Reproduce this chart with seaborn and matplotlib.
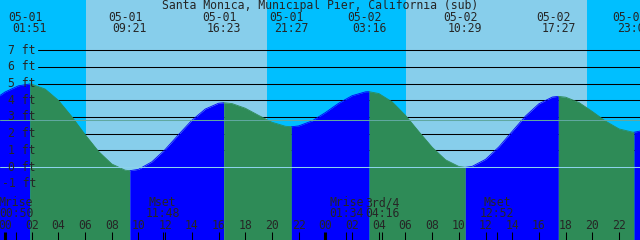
import numpy as np
import pandas as pd
import matplotlib
matplotlib.use("Agg")
import matplotlib.pyplot as plt
import seaborn as sns
from matplotlib.transforms import blended_transform_factory

# ---------------- data ----------------
title = "Santa Monica, Municipal Pier, California (sub)"

# tide height (ft) vs hours since 05-01 00:00
hours = [-1, 0, 1, 1.85, 2, 3, 4, 5, 6, 7, 8, 9, 9.35, 10, 11, 12, 13, 14, 15, 16,
         16.38, 17, 18, 19, 20, 21, 21.45, 22, 23, 24, 25, 26, 27, 27.27, 28, 29,
         30, 31, 32, 33, 34, 34.48, 35, 36, 37, 38, 39, 40, 41, 41.45, 42, 43, 44,
         45, 46, 47, 47.12, 48]
heights = [3.94, 4.49, 4.86, 4.97, 4.96, 4.67, 3.99, 3.02, 1.94, 0.94, 0.18, -0.19,
           -0.22, -0.14, 0.31, 1.05, 1.94, 2.80, 3.47, 3.82, 3.85, 3.80, 3.52, 3.09,
           2.68, 2.44, 2.41, 2.46, 2.76, 3.26, 3.82, 4.27, 4.50, 4.51, 4.40, 3.90,
           3.09, 2.12, 1.18, 0.43, 0.03, -0.02, 0.04, 0.46, 1.21, 2.14, 3.06, 3.79,
           4.19, 4.23, 4.18, 3.86, 3.32, 2.74, 2.28, 2.09, 2.08, 2.22]

# high / low tide events
tide_hours = [1.85, 9.35, 16.38, 21.45, 27.27, 34.48, 41.45, 47.12]
tide_dates = ["05-01", "05-01", "05-01", "05-01", "05-02", "05-02", "05-02", "05-02"]
tide_times = ["01:51", "09:21", "16:23", "21:27", "03:16", "10:29", "17:27", "23:07"]

# moon events
moon_hours = [0.833, 11.8, 25.567, 28.267, 36.867]
moon_names = ["Mrise", "Mset", "Mrise", "3rd/4", "Mset"]
moon_times = ["00:50", "11:48", "01:34", "04:16", "12:52"]

# sunrise / sunset (hours)
sunrise_hours = [6.07, 30.04]
sunset_hours = [19.6, 43.57]

ft_levels = [-1, 0, 1, 2, 3, 4, 5, 6, 7]
msl_ft = 2.8
hour_ticks = list(range(0, 49, 2))
hour_labels = [f"{h % 24:02d}" for h in hour_ticks]

# ---------------- style ----------------
W, H = 640, 240
NIGHT = "#00BFFF"
DAY = "#87CEEB"
RISE = "#0000FF"
FALL = "#2E8B57"
FS = 8.3

sns.set_style("white")
plt.rcParams["font.family"] = ["DejaVu Sans Mono", "DejaVu Sans"]

fig = plt.figure(figsize=(W / 100, H / 100), dpi=100)
ax = fig.add_axes([0, 0, 1, 1])
XMIN, XMAX = -0.3745, 47.566
YMIN, YMAX = -4.371, 10.0

# background: night / day
ax.axvspan(XMIN - 1, XMAX + 1, color=NIGHT, lw=0, zorder=0)
for r, s in zip(sunrise_hours, sunset_hours):
    ax.axvspan(r, s, color=DAY, lw=0, zorder=0)

# foot lines
for lvl in ft_levels:
    if lvl > 0:
        ax.axhline(lvl, xmin=38 / W, xmax=1, color="black", lw=0.75, zorder=1)

# tide fill: rising blue, falling green
t = np.array(hours, dtype=float)
h = np.array(heights, dtype=float)
rising = np.diff(h) > 0
rows = []
s = 0
seg = 0
for i in range(len(rising)):
    if i == len(rising) - 1 or rising[i + 1] != rising[i]:
        col = RISE if rising[i] else FALL
        ax.fill_between(t[s:i + 2], h[s:i + 2], YMIN - 5, color=col, lw=0,
                        zorder=2)
        for tt, hh in zip(t[s:i + 2], h[s:i + 2]):
            rows.append({"hour": tt, "ft": hh, "seg": seg,
                         "phase": "rise" if rising[i] else "fall"})
        seg += 1
        s = i + 1
df = pd.DataFrame(rows)
sns.lineplot(data=df, x="hour", y="ft", hue="phase", units="seg",
             estimator=None, palette={"rise": RISE, "fall": FALL},
             legend=False, lw=0.6, ax=ax, zorder=3)

# datum and mean sea level lines
ax.axhline(0, color="#8CD3EB", lw=0.75, zorder=4)
ax.axhline(msl_ft, color="#60A8A0", lw=0.75, zorder=4)

ax.set_xlim(XMIN, XMAX)
ax.set_ylim(YMIN, YMAX)
ax.axis("off")

bx = blended_transform_factory(ax.transData, ax.transAxes)
by = blended_transform_factory(ax.transAxes, ax.transData)


def fy(py):
    return 1 - py / H


# y labels
for lvl in ft_levels:
    ax.text(36 / W, lvl, f"{lvl} ft", transform=by, ha="right", va="center",
            fontsize=FS, zorder=6)

# title
ax.text(0.5, fy(6.0), title, transform=ax.transAxes, ha="center", va="center",
        fontsize=FS, zorder=6)

# tide event labels
for th, d, tm in zip(tide_hours, tide_dates, tide_times):
    ax.annotate(d, xy=(th, fy(17.5)), xycoords=bx, xytext=(-3.4, 0),
                textcoords="offset points", ha="center", va="center",
                fontsize=FS, zorder=6)
    ax.annotate(tm, xy=(th, fy(29)), xycoords=bx, xytext=(0, 0),
                textcoords="offset points", ha="center", va="center",
                fontsize=FS, zorder=6)

# moon labels
for mh, n, tm in zip(moon_hours, moon_names, moon_times):
    ax.text(mh, fy(202.5), n, transform=bx, ha="center", va="center",
            fontsize=FS, zorder=6)
    ax.text(mh, fy(213.5), tm, transform=bx, ha="center", va="center",
            fontsize=FS, zorder=6)
    ax.plot([mh, mh], [0, 8 / H], transform=bx, color="black", lw=0.75,
            zorder=6, solid_capstyle="butt")

# hour labels and ticks
for hv, lab in zip(hour_ticks, hour_labels):
    ax.text(hv, fy(225.5), lab, transform=bx, ha="center", va="center",
            fontsize=FS, zorder=6)
    lw = 2.2 if hv % 24 == 0 else 0.75
    ax.plot([hv, hv], [0, 8 / H], transform=bx, color="black", lw=lw,
            zorder=6, solid_capstyle="butt")

fig.savefig("out.png", dpi=100)
